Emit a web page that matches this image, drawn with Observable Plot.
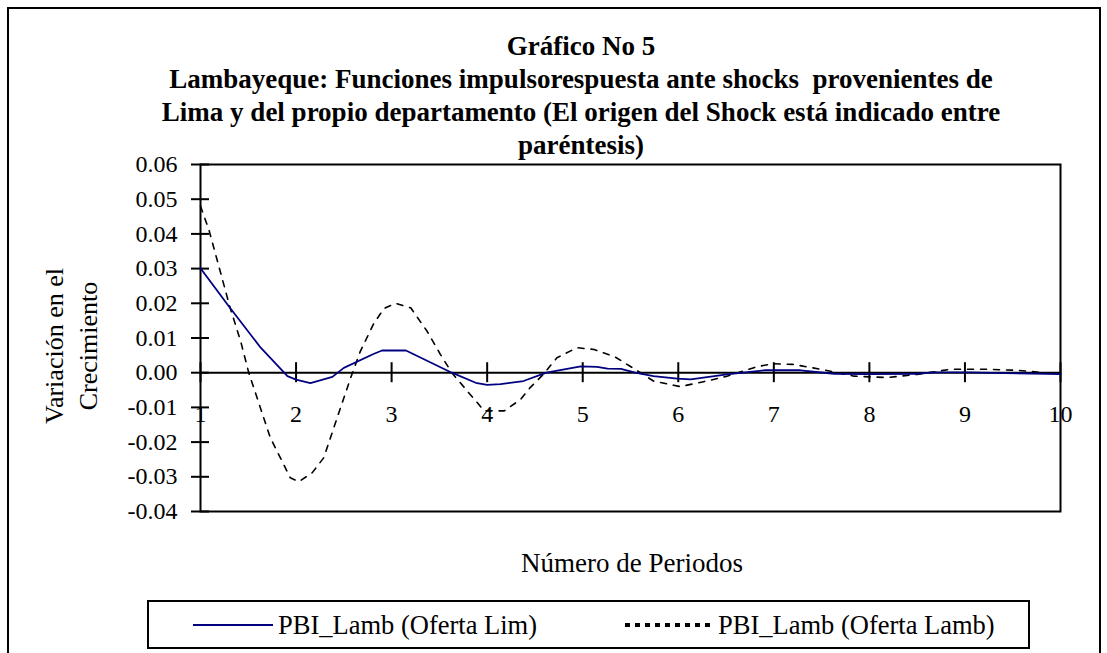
<!DOCTYPE html>
<html>
<head>
<meta charset="utf-8">
<script src="https://cdn.jsdelivr.net/npm/d3@7"></script>
<script src="https://cdn.jsdelivr.net/npm/@observablehq/plot@0.6"></script>
<style>
  html, body { margin: 0; padding: 0; background: #fff; }
  body { width: 1107px; height: 653px; position: relative; overflow: hidden; font-family: "Liberation Serif", "Times New Roman", serif; color: #000; }
  #outer { position: absolute; left: 7px; top: 7px; width: 1094px; height: 700px; border: 2px solid #000; box-sizing: border-box; }
  #chart { position: absolute; left: 0; top: 0; }
  .title { position: absolute; left: 81px; width: 1000px; text-align: center; font-weight: bold; font-size: 27px; line-height: 33px; white-space: nowrap; }
  #ylab { position: absolute; left: 72px; top: 346px; transform: translate(-50%, -50%) rotate(-90deg); text-align: center; font-size: 26px; line-height: 34px; white-space: nowrap; }
  #xlab { position: absolute; left: 432px; width: 400px; top: 547px; text-align: center; font-size: 27px; line-height: 32px; }
  #legend { position: absolute; left: 147px; top: 600px; width: 883px; height: 49px; border: 2px solid #000; box-sizing: border-box; font-size: 26.5px; }
  .item { position: absolute; top: 6px; height: 34px; display: flex; align-items: center; white-space: nowrap; }
  .item svg { margin-right: 5px; }
</style>
</head>
<body>
<div id="outer"></div>
<div id="chart"></div>
<div class="title" style="top:30px">Gráfico No 5</div>
<div class="title" style="top:63px;">Lambayeque: Funciones impulsorespuesta ante shocks&nbsp; provenientes de</div>
<div class="title" style="top:96px;">Lima y del propio departamento (El origen del Shock está indicado entre</div>
<div class="title" style="top:129px">paréntesis)</div>
<div id="ylab">Variación en el<br>Crecimiento</div>
<div id="xlab">Número de Periodos</div>
<div id="legend"></div>
<script>
// ---- data ----
const seriesNames = ["PBI_Lamb (Oferta Lim)", "PBI_Lamb (Oferta Lamb)"];
const xTicks = [1, 2, 3, 4, 5, 6, 7, 8, 9, 10];
const xTickLabels = ["1", "2", "3", "4", "5", "6", "7", "8", "9", "10"];
const yTicks = [0.06, 0.05, 0.04, 0.03, 0.02, 0.01, 0, -0.01, -0.02, -0.03, -0.04];
const yTickLabels = ["0.06", "0.05", "0.04", "0.03", "0.02", "0.01", "0.00", "-0.01", "-0.02", "-0.03", "-0.04"];

const limX = [1.0, 1.3, 1.63, 1.91, 2.0, 2.15, 2.38, 2.5, 2.81, 2.9, 3.15, 3.63, 3.88, 4.0, 4.14, 4.38, 4.62, 4.98, 5.15, 5.26, 5.40, 5.55, 5.74, 5.99, 6.13, 6.51, 6.90, 7.28, 7.63, 7.98, 8.5, 8.68, 9.03, 10.0];
const limY = [0.0301, 0.0190, 0.0072, -0.0010, -0.0020, -0.0030, -0.0012, 0.0014, 0.0054, 0.0064, 0.0064, 0.0, -0.0029, -0.0035, -0.0033, -0.0024, 0.0, 0.0018, 0.0017, 0.0012, 0.0011, 0.0, -0.0010, -0.0017, -0.0019, -0.0005, 0.0007, 0.0007, -0.0003, -0.0004, -0.0003, 0.0001, 0.0001, -0.0004];

const lambX = [1.0, 1.09, 1.31, 1.42, 1.505, 1.73, 1.94, 2.03, 2.17, 2.29, 2.43, 2.57, 2.67, 2.81, 2.92, 3.04, 3.2, 3.37, 3.51, 3.63, 3.82, 3.97, 4.18, 4.35, 4.45, 4.59, 4.73, 4.94, 5.12, 5.34, 5.5, 5.74, 5.95, 6.02, 6.33, 6.51, 6.82, 6.99, 7.2, 7.49, 7.84, 8.18, 8.5, 8.85, 9.2, 9.55, 9.83, 10.0];
const lambY = [0.048, 0.041, 0.0187, 0.0091, 0.0, -0.0187, -0.0303, -0.0314, -0.0288, -0.0245, -0.013, -0.0016, 0.006, 0.014, 0.0185, 0.020, 0.0187, 0.012, 0.0053, 0.0, -0.0062, -0.011, -0.011, -0.0077, -0.0043, -0.0004, 0.0043, 0.0072, 0.0067, 0.0045, 0.0018, -0.0024, -0.0036, -0.004, -0.0022, -0.001, 0.0017, 0.0026, 0.0024, 0.001, -0.001, -0.0014, -0.0005, 0.001, 0.001, 0.0007, 0.0, -0.0002];

const colors = ["#000080", "#000000"];
// ---------------------------------------

const lim = limX.map((x, i) => ({x, y: limY[i]}));
const lamb = lambX.map((x, i) => ({x, y: lambY[i]}));
const font = '"Liberation Serif", "Times New Roman", serif';

const chart = Plot.plot({
  width: 1107,
  height: 653,
  marginLeft: 200,
  marginRight: 47,
  marginTop: 164,
  marginBottom: 142,
  x: {domain: [1, 10], axis: null},
  y: {domain: [-0.04, 0.06], axis: null},
  style: {fontFamily: font, fontSize: "24px", background: "transparent", color: "#000", overflow: "visible"},
  marks: [
    Plot.frame({stroke: "#000", strokeWidth: 2}),
    Plot.ruleY([0], {stroke: "#000", strokeWidth: 2}),
    Plot.ruleX(xTicks, {x: d => d, y1: 0, y2: 0, insetTop: -10, insetBottom: -10, stroke: "#000", strokeWidth: 2}),
    Plot.ruleY(yTicks, {y: d => d, x1: 1, x2: 1, insetLeft: -9, insetRight: -9, stroke: "#000", strokeWidth: 2}),
    Plot.axisY(yTicks, {tickSize: 0, tickPadding: 23, tickFormat: d => yTickLabels[yTicks.indexOf(d)], fontSize: 24, label: null, fill: "#000"}),
    Plot.text(xTicks, {x: d => d, y: 0, dy: 42, text: (d, i) => xTickLabels[i], fontSize: 24, fill: "#000"}),
    Plot.line(lamb, {x: "x", y: "y", stroke: colors[1], strokeWidth: 1.6, strokeDasharray: "6,7"}),
    Plot.line(lim, {x: "x", y: "y", stroke: colors[0], strokeWidth: 1.8})
  ]
});
document.getElementById("chart").appendChild(chart);

// legend
const legend = document.getElementById("legend");
const items = [
  {left: 44, dash: null, w: 80, sw: 2},
  {left: 476, dash: "5,5", w: 88, sw: 4}
];
items.forEach((it, i) => {
  const div = document.createElement("div");
  div.className = "item";
  div.style.left = it.left + "px";
  const ns = "http://www.w3.org/2000/svg";
  const svg = document.createElementNS(ns, "svg");
  svg.setAttribute("width", it.w);
  svg.setAttribute("height", 10);
  const ln = document.createElementNS(ns, "line");
  ln.setAttribute("x1", 0); ln.setAttribute("x2", it.w);
  ln.setAttribute("y1", 5); ln.setAttribute("y2", 5);
  ln.setAttribute("stroke", colors[i]);
  ln.setAttribute("stroke-width", it.sw);
  if (it.dash) ln.setAttribute("stroke-dasharray", it.dash);
  svg.appendChild(ln);
  div.appendChild(svg);
  const sp = document.createElement("span");
  sp.textContent = seriesNames[i];
  div.appendChild(sp);
  legend.appendChild(div);
});
</script>
</body>
</html>
